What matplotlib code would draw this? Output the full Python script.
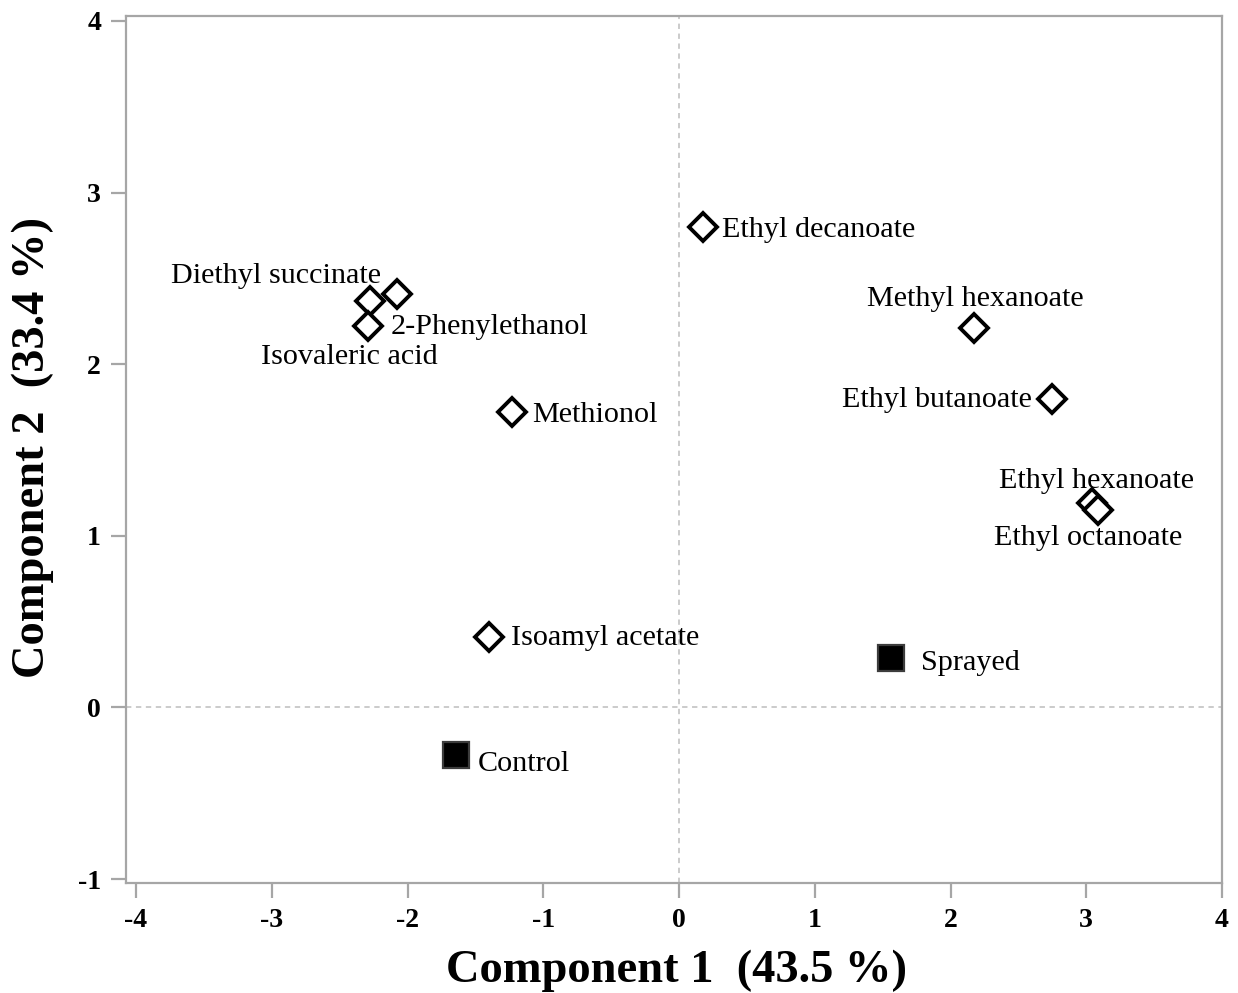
import matplotlib
matplotlib.use("Agg")
import matplotlib.pyplot as plt

# Volatile compounds (loadings) on the first two principal components
compounds = ["Ethyl decanoate", "Methyl hexanoate", "Ethyl butanoate",
             "Ethyl hexanoate", "Ethyl octanoate", "Diethyl succinate",
             "2-Phenylethanol", "Isovaleric acid", "Methionol",
             "Isoamyl acetate"]
comp_pc1 = [0.18, 2.17, 2.75, 3.04, 3.09, -2.28, -2.08, -2.29, -1.23, -1.40]
comp_pc2 = [2.80, 2.21, 1.80, 1.19, 1.15, 2.37, 2.41, 2.22, 1.72, 0.41]

# Treatments (scores)
treatments = ["Control", "Sprayed"]
treat_pc1 = [-1.64, 1.56]
treat_pc2 = [-0.28, 0.29]

# label placement: (dx, dy) in pixels from the marker, horizontal alignment
comp_label_pos = [(19, -10, "left"), (2, 22, "center"), (-20, -8, "right"),
                  (5, 15, "center"), (-10, -35, "center"), (11, 18, "right"),
                  (-6, -40, "left"), (-19, -38, "center"), (20, -10, "left"),
                  (22, -8, "left")]
treat_label_pos = [(21, -16, "left"), (30, -12, "left")]

serif = ["Liberation Serif", "DejaVu Serif"]
plt.rcParams["font.family"] = serif
plt.rcParams["axes.unicode_minus"] = False

fig = plt.figure(figsize=(12.38, 9.93), dpi=100)
ax = fig.add_axes([126 / 1238, 1 - 883 / 993, (1222 - 126) / 1238, (883 - 16) / 993])

ax.set_xlim(-4.074, 4.0)
ax.set_ylim(-1.023, 4.029)

grid_kw = dict(color="#bdbdbd", lw=1.1, linestyle=(0, (3.5, 3)), zorder=1)
ax.axvline(0, **grid_kw)
ax.axhline(0, **grid_kw)

ax.plot(comp_pc1, comp_pc2, linestyle="none", marker="D", markersize=14.5,
        markerfacecolor="white", markeredgecolor="black", markeredgewidth=2.8,
        zorder=3)
ax.plot(treat_pc1, treat_pc2, linestyle="none", marker="s", markersize=18.5,
        markerfacecolor="black", markeredgecolor="#3c3c3c", markeredgewidth=1.6,
        zorder=3)

for name, x, y, (dx, dy, ha) in zip(compounds, comp_pc1, comp_pc2, comp_label_pos):
    ax.annotate(name, (x, y), xytext=(dx, dy), textcoords="offset pixels",
                ha=ha, va="baseline", fontsize=21.7, color="black", zorder=4)
for name, x, y, (dx, dy, ha) in zip(treatments, treat_pc1, treat_pc2, treat_label_pos):
    ax.annotate(name, (x, y), xytext=(dx, dy), textcoords="offset pixels",
                ha=ha, va="baseline", fontsize=21.7, color="black", zorder=4)

spine_color = "#a6a6a6"
for s in ax.spines.values():
    s.set_color(spine_color)
    s.set_linewidth(1.6)

ax.set_xticks(range(-4, 5))
ax.set_yticks(range(-1, 5))
ax.tick_params(axis="both", direction="out", length=11, width=1.6,
               color=spine_color, labelsize=20, pad=7)
for lbl in ax.get_xticklabels() + ax.get_yticklabels():
    lbl.set_fontweight("bold")

fig.text(676 / 1238, 1 - 982 / 993, "Component 1  (43.5 %)", ha="center",
         va="baseline", fontsize=33.5, fontweight="bold")
fig.text(44 / 1238, 1 - 447 / 993, "Component 2  (33.4 %)", ha="center",
         va="baseline", rotation=90, rotation_mode="anchor", fontsize=33.5,
         fontweight="bold")

fig.savefig("out.png", dpi=100)
